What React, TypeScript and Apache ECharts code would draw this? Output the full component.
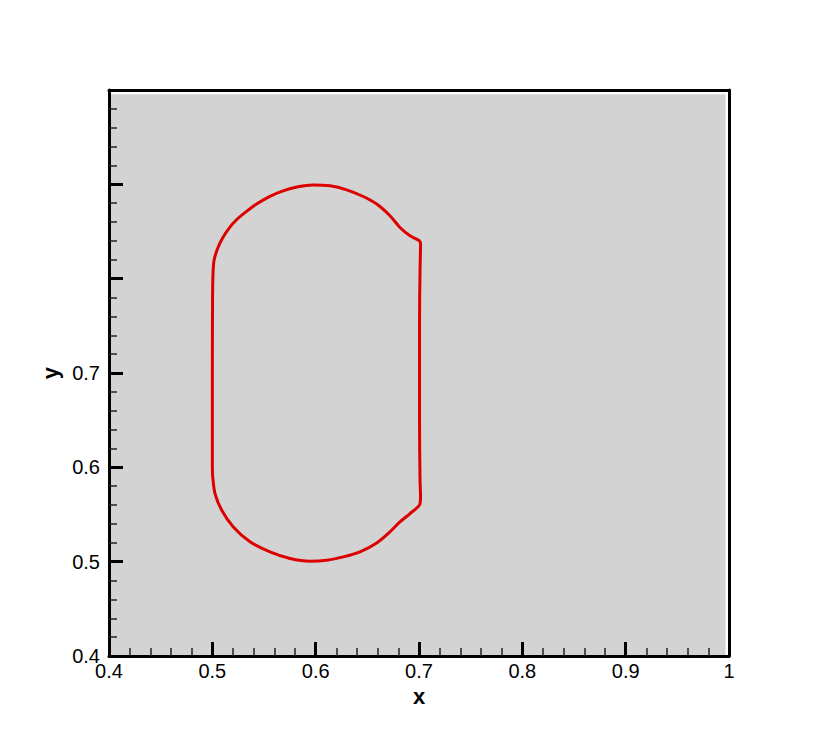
import React, { useEffect, useRef } from "react";
import * as echarts from "echarts";

// Interface contour (x, y) traced clockwise from the left side
const contourX = [
  0.5, 0.5, 0.5002, 0.5006, 0.5016, 0.505, 0.5098, 0.5161, 0.5239, 0.5331,
  0.5432, 0.5548, 0.5684, 0.5829, 0.5974, 0.6139, 0.63, 0.6461, 0.6591, 0.6719,
  0.6816, 0.6913, 0.7003, 0.7015, 0.701, 0.7005, 0.7005, 0.701, 0.7015, 0.7003,
  0.6913, 0.6816, 0.6709, 0.6594, 0.6429, 0.6267, 0.6107, 0.5945, 0.5752, 0.5558,
  0.5365, 0.5203, 0.5091, 0.5026, 0.5004, 0.5,
];
const contourY = [
  0.6021, 0.6709, 0.7767, 0.8032, 0.8190, 0.8317, 0.8429, 0.8534, 0.8630, 0.8714,
  0.8794, 0.8868, 0.8931, 0.8974, 0.8993, 0.8984, 0.8942, 0.8871, 0.8791, 0.8667,
  0.8543, 0.8455, 0.8402, 0.837, 0.8085, 0.7556, 0.6497, 0.5862, 0.5683, 0.5598,
  0.551, 0.5421, 0.5306, 0.5201, 0.5104, 0.5051, 0.5016, 0.5005, 0.5034, 0.5104,
  0.521, 0.5368, 0.5545, 0.5722, 0.5897, 0.6021,
];

const xRange = [0.4, 1.0];
const yRange = [0.4, 1.0];
const tickStep = 0.1;
const yLabelMax = 0.7; // y tick labels shown only up to this value
const shadedMax = [0.9966, 0.9955]; // grey field extent (x, y)

const FONT = "'Liberation Sans', Arial, sans-serif";

export default function App() {
  const ref = useRef<HTMLDivElement>(null);

  useEffect(() => {
    if (!ref.current) return;
    const chart = echarts.init(ref.current, undefined, { renderer: "svg" });
    const data = contourX.map((x, i) => [x, contourY[i]]);

    const frameAxis = {
      axisLine: { show: true, onZero: false, lineStyle: { color: "#000", width: 3 } },
      axisTick: { show: false },
      axisLabel: { show: false },
      splitLine: { show: false },
    };

    const mainTick = {
      show: true,
      inside: true,
      length: 14,
      lineStyle: { color: "#000", width: 3 },
    };
    const minorTick = {
      show: true,
      splitNumber: 5,
      length: 8,
      lineStyle: { color: "#222", width: 1.5 },
    };

    chart.setOption({
      animation: false,
      backgroundColor: "#fff",
      grid: { left: 109, right: 101, top: 90, bottom: 83 },
      xAxis: [
        {
          type: "value",
          position: "bottom",
          min: xRange[0],
          max: xRange[1],
          interval: tickStep,
          z: 10,
          axisLine: { show: true, onZero: false, lineStyle: { color: "#000", width: 3 } },
          axisTick: mainTick,
          minorTick,
          splitLine: { show: false },
          axisLabel: {
            color: "#000",
            fontSize: 20,
            fontFamily: FONT,
            margin: 5,
            formatter: (v: number) => String(parseFloat(v.toFixed(2))),
          },
          name: "x",
          nameLocation: "middle",
          nameGap: 28,
          nameTextStyle: { color: "#000", fontSize: 22, fontWeight: "bold", fontFamily: FONT },
        },
        {
          type: "value",
          position: "top",
          min: xRange[0],
          max: xRange[1],
          z: 10,
          ...frameAxis,
        },
      ],
      yAxis: [
        {
          type: "value",
          position: "left",
          min: yRange[0],
          max: yRange[1],
          interval: tickStep,
          z: 10,
          axisLine: { show: true, onZero: false, lineStyle: { color: "#000", width: 3 } },
          axisTick: mainTick,
          minorTick,
          splitLine: { show: false },
          axisLabel: {
            color: "#000",
            fontSize: 20,
            fontFamily: FONT,
            margin: 9,
            formatter: (v: number) =>
              v <= yLabelMax + 1e-6 ? String(parseFloat(v.toFixed(2))) : "",
          },
          name: "y",
          nameLocation: "middle",
          nameGap: 48,
          nameTextStyle: { color: "#000", fontSize: 22, fontWeight: "bold", fontFamily: FONT },
        },
        {
          type: "value",
          position: "right",
          min: yRange[0],
          max: yRange[1],
          z: 10,
          ...frameAxis,
        },
      ],
      series: [
        {
          type: "line",
          data,
          showSymbol: false,
          smooth: 0.3,
          z: 3,
          lineStyle: { color: "#dd0000", width: 3 },
          markArea: {
            silent: true,
            z: 1,
            itemStyle: { color: "#d3d3d3" },
            data: [
              [
                { coord: [xRange[0], yRange[0]] },
                { coord: [shadedMax[0], shadedMax[1]] },
              ],
            ],
          },
        },
      ],
    });

    return () => chart.dispose();
  }, []);

  return (
    <div
      ref={ref}
      style={{ position: "fixed", left: 0, top: 0, width: 830, height: 739 }}
    />
  );
}
